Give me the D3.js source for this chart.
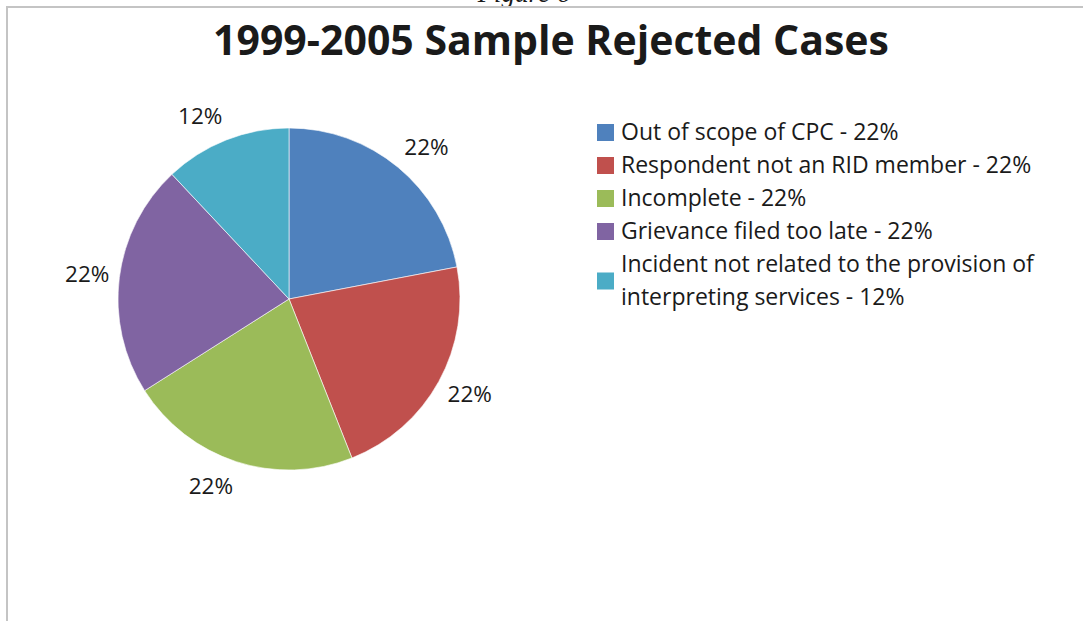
<!DOCTYPE html>
<html>
<head>
<meta charset="utf-8">
<script src="https://cdn.jsdelivr.net/npm/d3@7"></script>
<style>
  body { margin: 0; background: #fff; }
  text { font-family: "Open Sans", sans-serif; fill: #1a1a1a; }
</style>
</head>
<body>
<div class="main"></div>
<script>
let categories = [
  'Out of scope of CPC',
  'Respondent not an RID member',
  'Incomplete',
  'Grievance filed too late',
  'Incident not related to the provision of interpreting services'
];
let values = [22, 22, 22, 22, 12];
let colors = ['#4F81BD', '#C0504D', '#9BBB59', '#8064A2', '#4BACC6'];

let opts = {
  width: 1083,
  height: 621,
  cx: 289,
  cy: 299,
  r: 171,
  labelGap: 10
};

let svg = d3.select('.main').append('svg')
  .attr('width', opts.width)
  .attr('height', opts.height);

// caption cut off at the top of the page, plus the chart frame
svg.append('text')
  .attr('x', 524).attr('y', 2)
  .attr('text-anchor', 'middle')
  .style('font-family', '"Liberation Serif", serif')
  .style('font-style', 'italic')
  .style('font-size', '27px')
  .text('Figure 6');

svg.append('path')
  .attr('d', `M7,${opts.height} V7 H${opts.width}`)
  .attr('fill', 'none')
  .attr('stroke', '#c4c4c4')
  .attr('stroke-width', 2);

svg.append('text')
  .attr('x', 551).attr('y', 55)
  .attr('text-anchor', 'middle')
  .style('font-weight', 'bold')
  .style('font-size', '41px')
  .text('1999-2005 Sample Rejected Cases');

let pie = d3.pie().sort(null).value(d => d);
let arcs = pie(values);
let arc = d3.arc().innerRadius(0).outerRadius(opts.r);

let g = svg.append('g').attr('transform', `translate(${opts.cx},${opts.cy})`);

g.selectAll('path.slice').data(arcs).enter().append('path')
  .attr('class', 'slice')
  .attr('d', arc)
  .attr('fill', (d, i) => colors[i])
  .attr('stroke', '#ffffff')
  .attr('stroke-width', 0.6);

// labels sit just outside the slice, box pushed away from the circle
g.selectAll('text.lbl').data(arcs).enter().append('text')
  .attr('class', 'lbl')
  .attr('text-anchor', 'middle')
  .attr('dy', '0.35em')
  .style('font-size', '22.5px')
  .text(d => d.data + '%')
  .each(function(d) {
    let box = this.getBBox();
    let a = (d.startAngle + d.endAngle) / 2;
    let rr = opts.r + opts.labelGap;
    let x = Math.sin(a) * rr + Math.sign(Math.sin(a)) * box.width / 2;
    let y = -Math.cos(a) * rr - Math.cos(a) * box.height / 2;
    d3.select(this).attr('x', x).attr('y', y);
  });

// legend
let legendLines = [
  ['Out of scope of CPC - 22%'],
  ['Respondent not an RID member - 22%'],
  ['Incomplete - 22%'],
  ['Grievance filed too late - 22%'],
  ['Incident not related to the provision of', 'interpreting services - 12%']
];
let lineH = 33;
let legY = 132;
let legend = svg.append('g').attr('transform', 'translate(597,0)');
let row = 0;
legendLines.forEach((lines, i) => {
  let top = legY + row * lineH;
  let mid = top + (lines.length - 1) * lineH / 2;
  legend.append('rect')
    .attr('x', 0).attr('y', mid - 8)
    .attr('width', 17).attr('height', 17)
    .attr('fill', colors[i]);
  lines.forEach((t, j) => {
    legend.append('text')
      .attr('x', 24).attr('y', top + j * lineH)
      .attr('dy', '0.35em')
      .style('font-size', '23px')
      .text(t);
  });
  row += lines.length;
});
</script>
</body>
</html>
